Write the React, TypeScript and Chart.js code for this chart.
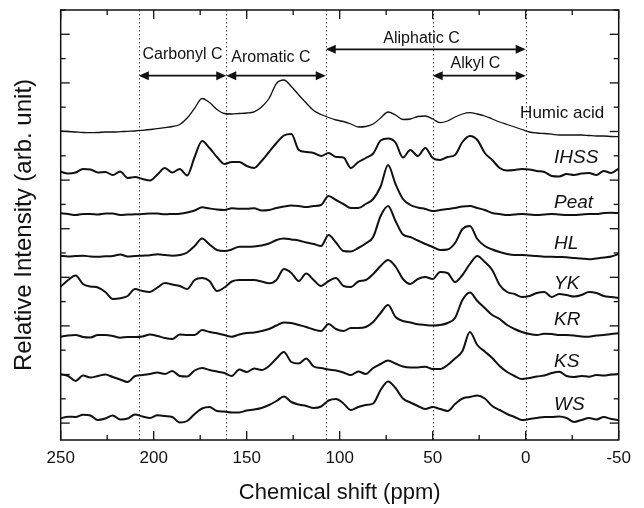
import React, { useEffect, useRef } from "react";
import { Chart, registerables } from "chart.js";

Chart.register(...registerables);

const FONT = "'Liberation Sans', Arial, Helvetica, sans-serif";
const INK = "#111";

// Chemical shift grid (ppm)
const chemicalShift = [
  250, 246, 242, 238, 234, 230, 226, 222, 218, 214,
  210, 206, 202, 198, 194, 190, 186, 182, 178, 174,
  170, 166, 162, 158, 154, 150, 146, 142, 138, 134,
  130, 126, 122, 118, 114, 110, 106, 102, 98, 94,
  90, 86, 82, 78, 74, 70, 66, 62, 58, 54,
  50, 46, 42, 38, 34, 30, 26, 22, 18, 14,
  10, 6, 2, -2, -6, -10, -14, -18, -22, -26,
  -30, -34, -38, -42, -46, -50,
];

// Stacked spectra (relative intensity, arb. unit, offset included)
const humicAcid = [
  309, 308.5, 308, 307.5, 307.3, 307.5, 308, 308, 308.3, 308.7,
  309, 309.7, 310.5, 311.3, 312.3, 313.5, 315.5, 322, 331.7, 341.5,
  337.5, 330.5, 326.5, 326, 326.5, 327, 328.2, 333, 341.5, 356.5,
  360, 353.5, 345, 337, 329.5, 325.5, 322.5, 320, 318.5, 316,
  313, 313.5, 316, 322, 328, 325, 320.5, 321, 323.5, 324,
  321, 317.3, 319, 323, 326, 327.3, 326, 324, 321, 318,
  315.5, 313, 310.5, 308, 307, 306.5, 305.8, 305, 305, 305,
  305, 304.5, 304, 304, 303.5, 303.3,
];
const ihss = [
  268.3, 266.5, 267.5, 271, 270.5, 267.5, 268, 265, 268.5, 262,
  263, 261, 259.5, 265.5, 272, 267.5, 271, 264.5, 283, 299,
  292, 283, 276, 278, 278, 274, 272, 279, 288, 297,
  304.5, 306, 290, 288, 287, 284, 287, 283, 282.5, 272,
  278, 282, 286.5, 299.5, 301.5, 297.5, 282.5, 290, 284, 292,
  282, 280, 283, 285, 298, 304, 300, 287, 280, 272,
  269.5, 270, 271, 270.5, 269, 268, 264, 263.5, 266, 265,
  266.5, 267, 265, 269, 267, 271.5,
];
const peat = [
  226.7, 226, 225, 226, 226, 225.5, 226.5, 226.5, 225, 225.5,
  225.7, 226, 226.5, 226.5, 225.7, 226, 226.3, 227.5, 229.5, 232.7,
  231.5, 230.5, 230, 231.7, 231.2, 231.2, 231.7, 229.5, 230, 232,
  233.5, 234.5, 234, 233, 234, 235, 244, 240, 236, 232,
  232, 236, 241, 253.5, 275, 256, 241, 235, 232.5, 231,
  229, 230, 231, 232, 233.5, 234, 232, 230, 227, 226,
  225, 225.5, 226, 225.5, 225, 225.5, 226, 225.5, 225, 225,
  225.5, 226, 226, 227, 227.3, 227,
];
const hl = [
  184.3, 183.5, 184, 184.3, 183.5, 183.3, 183.7, 184, 185.5, 183.5,
  184, 184.3, 184.7, 185.7, 185, 184.3, 185, 187.5, 194, 201.5,
  195.5, 190, 189, 190.5, 193.3, 193.3, 193.5, 194.5, 196.5, 200,
  201.5, 200.5, 199.5, 197.5, 196, 194, 205, 197.5, 189, 188.5,
  192, 196.5, 203, 224, 234, 219, 205.5, 203, 199.5, 196,
  193, 190, 190.5, 197, 211, 214, 201, 194, 190.5, 188,
  186, 185, 185, 184.5, 184, 183.3, 183.3, 183, 182.7, 182,
  181.5, 180.7, 181.5, 182.5, 183.5, 186,
];
const yk = [
  153.3, 160, 164.5, 156, 153.5, 152.5, 148, 141, 141.7, 144,
  151, 149, 148, 152.5, 157, 155.5, 154, 151, 160, 162,
  159, 149, 152.5, 158.5, 160, 160, 160, 158.5, 156.7, 160,
  171, 167, 159, 166.5, 160, 154, 159, 162, 154, 153,
  158.5, 160, 166, 174, 180, 173.5, 161, 156, 161, 163,
  161, 168, 167, 158, 165, 176, 184, 178, 170, 155,
  148, 146, 143, 144, 147, 148, 143, 146, 145, 143.5,
  145, 148, 147, 144, 143, 142,
];
const kr = [
  103.3, 104.5, 105, 103, 102.5, 105, 105, 104, 102.3, 103,
  103, 103.5, 105.5, 104, 102, 101, 105.5, 105, 105, 110,
  108, 106.7, 105, 103.3, 105.5, 107, 107.5, 109, 111, 114.5,
  117.5, 117, 115, 113, 110.5, 109, 116, 111, 109, 112,
  112, 113, 118, 127, 135, 123, 119, 117.5, 115.7, 115,
  114.5, 115, 117, 122, 140, 147.5, 139, 132, 125, 121,
  115, 111, 108, 106, 105, 106.3, 106, 105, 105, 104.5,
  103.5, 103.3, 104.5, 105, 106, 106.7,
];
const ks = [
  65.7, 64, 59, 64.5, 62.5, 64, 65.5, 63, 60.5, 58,
  64, 65, 66, 67.5, 66, 69, 64, 63.5, 69.5, 72,
  70, 68.5, 67, 64, 70.5, 68, 71.5, 70, 74, 81.5,
  88, 78, 76.5, 81.5, 73.5, 72, 70.5, 69.5, 67.5, 65,
  68.5, 66, 72, 76, 79.5, 76.5, 73.5, 72.5, 72.5, 73.3,
  71, 71, 75, 81.5, 89, 108, 95, 88.5, 82, 74,
  68, 64, 61, 62, 63.5, 64.5, 67, 68.3, 64, 63,
  64, 63.3, 65, 64.5, 65.5, 66,
];
const ws = [
  21.7, 23.3, 23, 25.2, 24.5, 20, 21.5, 24.5, 20.5, 21.5,
  25.5, 23.5, 22, 24.7, 24, 23, 17.5, 19, 26, 31.5,
  33, 29, 28.5, 27.5, 27.5, 29.5, 30.5, 32, 35, 39,
  43.5, 38, 35.5, 34, 32, 33.5, 39.5, 41, 36.5, 30,
  33, 35, 36.5, 50, 58.5, 52, 41.5, 37.5, 34, 31,
  33, 31, 29, 36, 41.5, 43, 44.5, 41.5, 34, 30,
  26, 23, 20, 21, 22, 23, 23, 23.5, 22, 18,
  20, 22, 20.5, 23, 21, 20,
];

const traceNames = ["Humic acid", "IHSS", "Peat", "HL", "YK", "KR", "KS", "WS"];
const traceSeries = [humicAcid, ihss, peat, hl, yk, kr, ks, ws];
// label anchor (ppm of left edge, intensity level of text centre)
const traceLabelShift = [3, -15.2, -15.2, -15.2, -15.2, -15.2, -15.2, -15.2];
const traceLabelLevel = [328.3, 284, 239.3, 198.3, 158.3, 122, 80, 37.3];

// Region boundaries and annotations
const regionBounds = [208, 161, 107.5, 50, 0];
const regionNames = ["Carbonyl C", "Aromatic C", "Aliphatic C", "Alkyl C"];
const regionFrom = [208, 161, 107.5, 50];
const regionTo = [161, 107.5, 0, 0];
const regionArrowLevel = [364.3, 364.3, 390.7, 364.3];
const regionTextShift = [184.5, 137, 56, 27];
const regionTextLevel = [386.5, 384, 403, 378];

const xTickValues = [250, 225, 200, 175, 150, 125, 100, 75, 50, 25, 0, -25, -50];
const yTickTop = 430;
const yTickStep = 24.3;
const yTickCount = 18;

const decorPlugin = {
  id: "decor",
  beforeDatasetsDraw(chart: any) {
    const { ctx, chartArea: a, scales } = chart;
    const x = scales.x;
    ctx.save();
    ctx.strokeStyle = "#444";
    ctx.lineWidth = 1;
    ctx.setLineDash([1.5, 2.5]);
    regionBounds.forEach((v) => {
      const px = Math.round(x.getPixelForValue(v)) + 0.5;
      ctx.beginPath();
      ctx.moveTo(px, a.top);
      ctx.lineTo(px, a.bottom);
      ctx.stroke();
    });
    ctx.restore();
  },
  afterDatasetsDraw(chart: any) {
    const { ctx, scales } = chart;
    const x = scales.x;
    const y = scales.y;
    ctx.save();
    // arrows
    ctx.strokeStyle = INK;
    ctx.fillStyle = INK;
    ctx.lineWidth = 1.8;
    const head = 10;
    const half = 4.5;
    regionNames.forEach((_, i) => {
      const x1 = x.getPixelForValue(regionFrom[i]);
      const x2 = x.getPixelForValue(regionTo[i]);
      const py = y.getPixelForValue(regionArrowLevel[i]);
      ctx.beginPath();
      ctx.moveTo(x1 + head - 1, py);
      ctx.lineTo(x2 - head + 1, py);
      ctx.stroke();
      ctx.beginPath();
      ctx.moveTo(x1, py);
      ctx.lineTo(x1 + head, py - half);
      ctx.lineTo(x1 + head, py + half);
      ctx.closePath();
      ctx.fill();
      ctx.beginPath();
      ctx.moveTo(x2, py);
      ctx.lineTo(x2 - head, py - half);
      ctx.lineTo(x2 - head, py + half);
      ctx.closePath();
      ctx.fill();
    });
    // annotation text
    ctx.font = `16px ${FONT}`;
    ctx.textAlign = "center";
    ctx.textBaseline = "alphabetic";
    regionNames.forEach((name, i) => {
      const px = x.getPixelForValue(regionTextShift[i]);
      const py = y.getPixelForValue(regionTextLevel[i]) + 16 * 0.358;
      ctx.fillText(name, px, py);
    });
    // trace labels
    ctx.textAlign = "left";
    traceNames.forEach((name, i) => {
      const size = i === 0 ? 17 : 19;
      ctx.font = `${i === 0 ? "" : "italic "}${size}px ${FONT}`;
      const px = x.getPixelForValue(traceLabelShift[i]);
      const py = y.getPixelForValue(traceLabelLevel[i]) + size * 0.358;
      ctx.fillText(name, px, py);
    });
    ctx.restore();
  },
  afterDraw(chart: any) {
    const { ctx, chartArea: a, scales } = chart;
    const x = scales.x;
    const y = scales.y;
    ctx.save();
    ctx.strokeStyle = INK;
    ctx.lineWidth = 1.3;
    const seg = (x1: number, y1: number, x2: number, y2: number) => {
      ctx.beginPath();
      ctx.moveTo(x1, y1);
      ctx.lineTo(x2, y2);
      ctx.stroke();
    };
    xTickValues.forEach((v) => {
      const px = x.getPixelForValue(v);
      const len = v % 50 === 0 ? 9 : 5;
      seg(px, a.bottom, px, a.bottom - len);
      seg(px, a.top, px, a.top + len);
    });
    for (let k = 0; k < yTickCount; k++) {
      const py = y.getPixelForValue(yTickTop - k * yTickStep);
      const len = k % 2 === 1 ? 9 : 5;
      seg(a.left, py, a.left + len, py);
      seg(a.right, py, a.right - len, py);
    }
    ctx.lineWidth = 1.5;
    ctx.strokeRect(a.left, a.top, a.right - a.left, a.bottom - a.top);
    ctx.restore();
  },
};

export default function App() {
  const canvasRef = useRef<HTMLCanvasElement | null>(null);

  useEffect(() => {
    if (!canvasRef.current) return;
    Chart.defaults.font.family = FONT;
    const chart = new Chart(canvasRef.current, {
      type: "line",
      data: {
        datasets: traceSeries.map((series, i) => ({
          label: traceNames[i],
          data: chemicalShift.map((c, j) => ({ x: c, y: series[j] })),
          borderColor: INK,
          borderWidth: i === 0 ? 1.3 : 2,
          pointRadius: 0,
          fill: false,
          cubicInterpolationMode: "monotone" as const,
        })),
      },
      options: {
        animation: false,
        responsive: false,
        devicePixelRatio: 1,
        events: [],
        layout: { padding: { top: 10, right: 25.3, left: 0, bottom: 0 } },
        plugins: {
          legend: { display: false },
          tooltip: { enabled: false },
        },
        scales: {
          x: {
            type: "linear",
            min: -50,
            max: 250,
            reverse: true,
            grid: { display: false, drawTicks: false, tickLength: 0 },
            border: { display: false },
            ticks: {
              stepSize: 50,
              color: INK,
              font: { size: 17, family: FONT },
              padding: 8.5,
              maxRotation: 0,
              autoSkip: false,
            },
            title: {
              display: true,
              text: "Chemical shift (ppm)",
              color: INK,
              font: { size: 22, family: FONT },
              padding: { top: 0, bottom: 1.8 },
            },
            afterFit: (scale: any) => {
              scale.height = 68;
            },
          },
          y: {
            type: "linear",
            min: 0,
            max: 430,
            grid: { display: false, drawTicks: false, tickLength: 0 },
            border: { display: false },
            ticks: { display: false },
            title: {
              display: true,
              text: "Relative Intensity (arb. unit)",
              color: INK,
              font: { size: 24, family: FONT },
              padding: { top: 9.6, bottom: 0 },
            },
            afterFit: (scale: any) => {
              scale.width = 60.7;
            },
          },
        },
      },
      plugins: [decorPlugin],
    });
    return () => chart.destroy();
  }, []);

  return (
    <div style={{ position: "fixed", left: 0, top: 0, width: 644, height: 508, background: "#fff" }}>
      <canvas ref={canvasRef} width={644} height={508} style={{ width: 644, height: 508 }} />
    </div>
  );
}
